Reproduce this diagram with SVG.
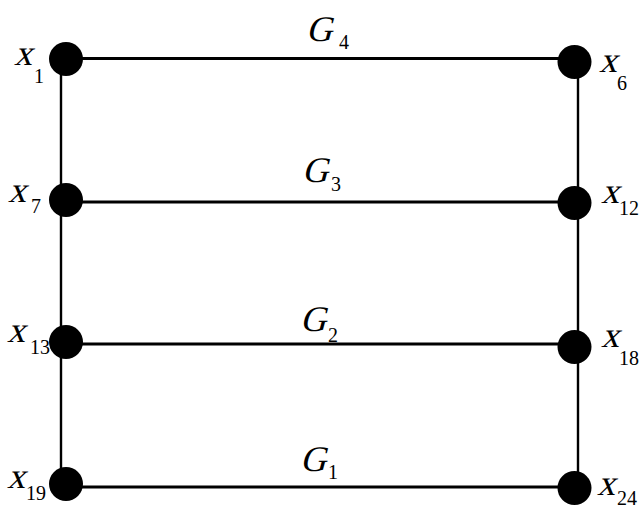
<svg xmlns="http://www.w3.org/2000/svg" width="641" height="508" viewBox="0 0 641 508">
<style>
.e{stroke:#000;fill:none;stroke-linecap:butt}
.h{stroke-width:2.8}
.v{stroke-width:2.4}
.n{fill:#000}
.m{font-family:"Liberation Serif","Times New Roman",serif;font-size:36px;fill:#000}
.s{font-family:"Liberation Serif","Times New Roman",serif;font-size:20px;fill:#000}
</style>
<rect width="641" height="508" fill="#fff"/>
<g id="connectors">
<line class="e v" x1="61" y1="59" x2="61" y2="484"/>
<line class="e v" x1="578" y1="62" x2="578" y2="488"/>
<line class="e h" x1="66" y1="58.5" x2="574" y2="58.5"/>
<line class="e h" x1="66" y1="202" x2="574" y2="202"/>
<line class="e h" x1="66" y1="344" x2="574" y2="344"/>
<line class="e h" x1="66" y1="487" x2="574" y2="487"/>
</g>
<g id="edge-labels">
<g id="G4"><text class="m" transform="translate(306 41) skewX(-15)">G</text><text class="s" x="339" y="49">4</text></g>
<g id="G3"><text class="m" transform="translate(302 182) skewX(-15)">G</text><text class="s" x="331" y="191">3</text></g>
<g id="G2"><text class="m" transform="translate(300 331) skewX(-15)">G</text><text class="s" x="328" y="342">2</text></g>
<g id="G1"><text class="m" transform="translate(300 471) skewX(-15)">G</text><text class="s" x="328" y="479">1</text></g>
</g>
<g id="x1"><circle class="n" cx="66" cy="59" r="17"/><text class="m" transform="translate(14 65) skewX(-15)">x</text><text class="s" x="34" y="83">1</text></g>
<g id="x7"><circle class="n" cx="66" cy="200" r="17"/><text class="m" transform="translate(8 202) skewX(-15)">x</text><text class="s" x="31" y="213">7</text></g>
<g id="x13"><circle class="n" cx="66" cy="342" r="17"/><text class="m" transform="translate(7 342) skewX(-15)">x</text><text class="s" x="30" y="354">13</text></g>
<g id="x19"><circle class="n" cx="66" cy="484" r="17"/><text class="m" transform="translate(7 488) skewX(-15)">x</text><text class="s" x="26" y="500">19</text></g>
<g id="x6"><circle class="n" cx="574.5" cy="62" r="17"/><text class="m" transform="translate(599 72) skewX(-15)">x</text><text class="s" x="617" y="90">6</text></g>
<g id="x12"><circle class="n" cx="574.5" cy="203" r="17"/><text class="m" transform="translate(601 203) skewX(-15)">x</text><text class="s" x="619" y="215">12</text></g>
<g id="x18"><circle class="n" cx="574.5" cy="347" r="17"/><text class="m" transform="translate(601 347) skewX(-15)">x</text><text class="s" x="619" y="365">18</text></g>
<g id="x24"><circle class="n" cx="574.5" cy="488" r="17"/><text class="m" transform="translate(597 495) skewX(-15)">x</text><text class="s" x="617" y="505">24</text></g>
</svg>
